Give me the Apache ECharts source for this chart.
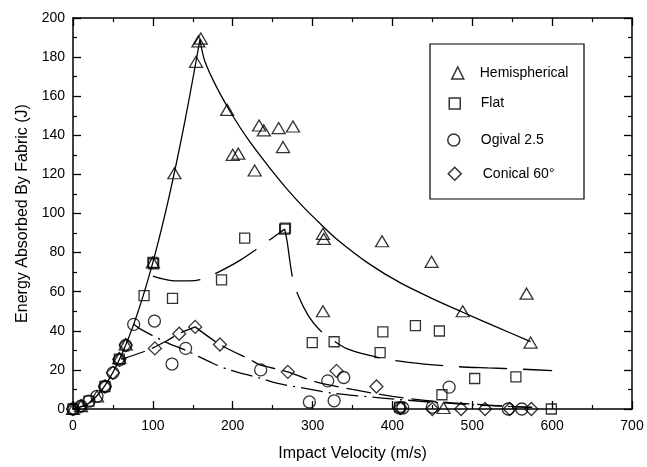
<!DOCTYPE html>
<html><head><meta charset="utf-8">
<script src="https://cdn.jsdelivr.net/npm/echarts@6/dist/echarts.min.js"></script>
<style>html,body{margin:0;padding:0;background:#fff}#c{width:647px;height:467px}</style>
</head><body><div id="c"></div>
<script>
// ---- data ----
const seriesNames = ['Hemispherical', 'Flat', 'Ogival 2.5', 'Conical 60°'];
const xTicks = [0, 100, 200, 300, 400, 500, 600, 700];
const yTicks = [0, 20, 40, 60, 80, 100, 120, 140, 160, 180, 200];

const hemiPts = [[0,0],[10,1.5],[30,6.5],[58,26],[66,33],[100,75],[127,120.6],[154,177.6],[157,188],[160,189.5],
  [193,153],[200,130],[207,130.6],[227.5,122],[233,145],[239,142.5],[257.5,143.7],[263,134],[275.5,144.5],
  [313,89.6],[314,87],[313,50],[387,85.8],[449,75.3],[464,0.5],[488,50],[568,59],[573,34]];
const flatPts = [[0,0],[20,4],[40,11.5],[58,25.5],[89,58],[100,75],[101,74.3],[124.6,56.6],[186,66],[215,87.4],
  [265,92],[266,92.5],[299.6,34],[327,34.4],[384.6,28.8],[388,39.5],[409,1],[428.8,42.6],[458.8,39.9],
  [462,7.3],[503,15.6],[554.6,16.4],[599,0]];
const ogivalPts = [[0,0],[10,1.5],[20,4],[30,6.5],[40,11.5],[50,18.5],[58,25],[66,32.5],[76,43.3],[102,45],
  [124,23],[141,31],[235,20],[296,3.6],[319,14.4],[327,4.2],[339,16.1],[409,0.5],[413,0.5],[450,1],
  [471,11.2],[545,0],[562,0]];
const conicalPts = [[0,0],[10,1.5],[40,11.5],[50,18.5],[58,25.5],[66,32.7],[102.5,31],[133,38.5],[153,42],
  [184,33],[269,19],[330,19.5],[380,11.5],[410,0.5],[450,0],[486,0],[516,0],[547,0],[574,0]];

// fitted curves
const hemiFitRise = [[0,0],[20,3],[40,12],[60,27],[80,48],[100,75],[120,108],[140,147],[159,189]];
const hemiFitFall = [[159,189],[165,178],[180,164.5],[200,150],[220,137.5],[246,123.5],[267,113],[288,103.5],
  [309,95],[330,87],[370,74.5],[410,64.5],[450,56.5],[488,49.5],[530,42],[573,34.5]];
const flatFitA = [[100,68],[115,66.3],[130,65.5],[145,65.5],[161,66.3],[182,70],[209,76],[241,85],[265,92]];
const flatFitB = [[265,92],[268,86],[275,67],[282,58],[295,47.5],[309,40.4],[325,35.3],[342,31],[370,27.5],
  [400,25],[440,23],[480,21.7],[520,21],[560,20.4],[600,19.6]];
const ogivalFit = [[76,43.3],[84,41],[115,34.4],[141,30],[175,23.4],[196,20],[234,15.8],[255,13.2],
  [294,10.3],[325,8.1],[388,5.6],[450,3.5],[513,1.9],[575,0.8]];
const conicalFitRise = [[60,25.5],[67,26.3],[94,30.2],[117,34.8],[133,38.6],[153,42]];
const conicalFitFall = [[153,42],[184,33],[223,25],[234,22.6],[269,19],[303,14],[350,10],[400,6.5],
  [450,4],[500,2.5],[550,1.3],[575,0.8]];

// ---- chart ----
const FONT = '"Liberation Sans", Arial, sans-serif';
const chart = echarts.init(document.getElementById('c'), null, {renderer: 'canvas'});
const hollow = {color: 'rgba(0,0,0,0)', borderColor: '#000', borderWidth: 1.3};
function scatter(name, data, symbol, size) {
  return {name, type: 'scatter', data, symbol, symbolSize: size, itemStyle: hollow, z: 5,
    emphasis: {disabled: true}};
}
function fit(data, type, width) {
  return {type: 'line', data, showSymbol: false, smooth: 0.3, silent: true,
    lineStyle: {color: '#000', width: width || 1.3, type}, z: 3};
}
const axisCommon = {
  axisLine: {show: true, onZero: false, lineStyle: {color: '#000', width: 1.5}},
  axisTick: {show: true, inside: true, length: 8, lineStyle: {color: '#000', width: 1.3}},
  minorTick: {show: true, splitNumber: 2, length: 4, lineStyle: {color: '#000', width: 1.2}},
  splitLine: {show: false}
};
// cx, cy: icon centre; tx: text start
function legendAt(name, cx, cy, tx, size) {
  return {data: [name], left: cx - 5 - size / 2, top: cy - 5 - size / 2, itemWidth: size, itemHeight: size,
    selectedMode: false, z: 30, padding: 5,
    itemStyle: {color: 'rgba(0,0,0,0)', borderColor: '#000', borderWidth: 1.5},
    textStyle: {fontFamily: FONT, fontSize: 14, color: '#000',
      padding: [0, 0, 0, Math.max(0, tx - (cx + size / 2) - 5)]}};
}
chart.setOption({
  animation: false,
  backgroundColor: '#fff',
  grid: {left: 73, right: 15, top: 18, bottom: 56},
  graphic: [{type: 'rect', shape: {x: 430, y: 44, width: 154, height: 155}, z: 1,
    style: {fill: 'none', stroke: '#000', lineWidth: 1.2}}],
  legend: [
    legendAt(seriesNames[0], 457, 72, 479, 12),
    legendAt(seriesNames[1], 454, 102, 480, 11),
    legendAt(seriesNames[2], 453, 139, 480, 12),
    legendAt(seriesNames[3], 454, 173, 482, 13)
  ],
  xAxis: [
    Object.assign({type: 'value', position: 'bottom', min: xTicks[0], max: xTicks[xTicks.length-1], interval: 100,
      name: 'Impact Velocity (m/s)', nameLocation: 'middle', nameGap: 37,
      nameTextStyle: {fontFamily: FONT, fontSize: 16, color: '#000'},
      axisLabel: {fontFamily: FONT, fontSize: 14, color: '#000', margin: 10}}, axisCommon),
    Object.assign({type: 'value', position: 'top', min: xTicks[0], max: xTicks[xTicks.length-1], interval: 100,
      axisLabel: {show: false}}, axisCommon)
  ],
  yAxis: [
    Object.assign({type: 'value', position: 'left', min: yTicks[0], max: yTicks[yTicks.length-1], interval: 20,
      name: 'Energy Absorbed By Fabric (J)', nameLocation: 'middle', nameGap: 42,
      nameTextStyle: {fontFamily: FONT, fontSize: 16, color: '#000'},
      axisLabel: {fontFamily: FONT, fontSize: 14, color: '#000', margin: 8}}, axisCommon),
    Object.assign({type: 'value', position: 'right', min: yTicks[0], max: yTicks[yTicks.length-1], interval: 20,
      axisLabel: {show: false}}, axisCommon)
  ],
  series: [
    fit(hemiFitRise, 'solid'),
    fit(hemiFitFall, 'solid'),
    fit(flatFitA, [48, 16]),
    fit(flatFitB, [48, 16]),
    fit(ogivalFit, [22, 6, 2, 6]),
    fit(conicalFitRise, [25, 8]),
    fit(conicalFitFall, [25, 8]),
    scatter(seriesNames[0], hemiPts, 'triangle', [13, 11]),
    scatter(seriesNames[1], flatPts, 'rect', 10),
    scatter(seriesNames[2], ogivalPts, 'circle', 12),
    scatter(seriesNames[3], conicalPts, 'diamond', [13, 13])
  ]
});
</script></body></html>
